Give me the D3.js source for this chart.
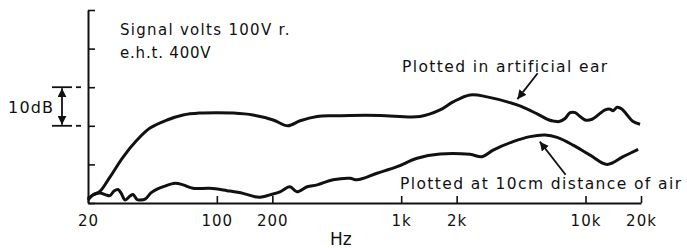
<!DOCTYPE html>
<html><head><meta charset="utf-8">
<script src="https://cdn.jsdelivr.net/npm/d3@7"></script>
<style>
html,body{margin:0;padding:0;background:#fff;}
svg text{font-family:"DejaVu Sans",sans-serif;fill:#111;}
</style></head>
<body><svg id="chart" width="687" height="248"></svg>
<script>
// ---- data ----
const xTickValues = [20, 100, 200, 1000, 2000, 10000, 20000];
const xTickLabels = ["20", "100", "200", "1k", "2k", "10k", "20k"];
const yTickValues = [0, 10, 20, 30, 40, 50];

// Plotted in artificial ear (Hz, relative dB)
const earFreq = [20, 21.3, 23.2, 26.3, 31, 36.9, 43.4, 53.7, 65.6, 81, 100, 122, 157, 202, 243, 283, 350, 427, 528, 768, 1266, 1625, 1912, 2364, 2924, 4254, 5462, 6344, 6756, 7188, 7750, 8248, 8802, 9348, 9948, 10858, 11702, 12772, 13592, 14112, 14840, 15794, 16810, 18122, 19776];
const earDb   = [0.8, 2.1, 3.0, 6.7, 11.9, 16.3, 19.4, 21.5, 22.8, 23.3, 23.4, 23.3, 22.8, 21.5, 20.0, 21.3, 22.4, 22.6, 22.7, 22.7, 22.4, 24.1, 26.2, 28.0, 27.5, 25.4, 23.1, 21.5, 21.2, 21.1, 21.9, 23.4, 23.4, 22.4, 21.5, 21.7, 22.8, 24.1, 24.3, 23.9, 24.8, 24.3, 22.8, 21.1, 20.4];

// Plotted at 10cm distance of air (Hz, relative dB)
const airFreq = [20, 21.3, 23.2, 25, 26.3, 27.7, 29.1, 30.2, 31.8, 33.8, 35.1, 36.9, 38.3, 40.8, 43.9, 47.4, 51.7, 59.3, 65.6, 74.3, 91.8, 113.6, 138.7, 161, 171.6, 194, 220, 249, 272, 309, 350, 427, 528, 576, 740, 950, 1220, 1625, 2364, 2748, 3152, 4046, 5004, 6034, 7010, 8564, 10590, 13100, 15992, 19290];
const airDb   = [1.0, 2.1, 2.6, 2.1, 1.9, 3.1, 3.5, 2.6, 0.8, 1.8, 2.2, 0.9, 0.8, 1.0, 2.6, 3.6, 4.3, 5.1, 4.7, 3.8, 3.8, 3.2, 2.5, 1.6, 1.5, 2.1, 2.9, 4.2, 2.9, 4.2, 4.7, 6.0, 6.4, 6.0, 7.7, 9.4, 11.6, 12.7, 12.6, 12.0, 13.7, 15.9, 17.2, 17.6, 17.0, 15.0, 12.4, 10.0, 12.0, 13.9];

// annotation anchors (Hz, dB)
const earArrow = {from: [5500, 33.6], to: [4270, 26.9]};
const airArrow = {from: [7800, 7.3], to: [5650, 15.9]};
const bracketDb = [20, 30];

// ---- drawing ----
const svg = d3.select("#chart");
const x = d3.scaleLog().domain([20, 20000]).range([88, 641]);
const y = d3.scaleLinear().domain([0, 50]).range([203, 10]);

svg.append("defs").append("marker")
  .attr("id", "ah").attr("viewBox", "0 0 10 10").attr("refX", 10).attr("refY", 5)
  .attr("markerWidth", 9).attr("markerHeight", 9).attr("markerUnits", "userSpaceOnUse")
  .attr("orient", "auto-start-reverse")
  .append("path").attr("d", "M0,0 L10,5 L0,10 Z").attr("fill", "#111");

const xAxis = d3.axisBottom(x).tickValues(xTickValues)
  .tickFormat((d, i) => xTickLabels[i]).tickSize(-7).tickSizeOuter(0).tickPadding(12);
const gx = svg.append("g").attr("transform", "translate(0,203)").call(xAxis);
gx.select(".domain").attr("stroke", "#111").attr("stroke-width", 2);
gx.selectAll(".tick line").attr("stroke", "#111").attr("stroke-width", 1.6);
gx.selectAll(".tick text").attr("font-size", 15).attr("letter-spacing", 1)
  .attr("font-family", "DejaVu Sans").attr("fill", "#111");

const yAxis = d3.axisLeft(y).tickValues(yTickValues).tickFormat("").tickSize(-7).tickSizeOuter(0);
const gy = svg.append("g").attr("transform", "translate(88,0)").call(yAxis);
gy.select(".domain").attr("stroke", "#111").attr("stroke-width", 2);
gy.selectAll(".tick line").attr("stroke", "#111").attr("stroke-width", 1.6);

const line = (fs, ds) => d3.line().curve(d3.curveCatmullRom.alpha(0.5))
  .x((d, i) => x(fs[i])).y((d, i) => y(ds[i]))(fs);

svg.append("path").attr("d", line(earFreq, earDb)).attr("fill", "none")
  .attr("stroke", "#111").attr("stroke-width", 3).attr("stroke-linejoin", "round");
svg.append("path").attr("d", line(airFreq, airDb)).attr("fill", "none")
  .attr("stroke", "#111").attr("stroke-width", 3).attr("stroke-linejoin", "round");

// arrows
[earArrow, airArrow].forEach(a => {
  svg.append("line")
    .attr("x1", x(a.from[0])).attr("y1", y(a.from[1]))
    .attr("x2", x(a.to[0])).attr("y2", y(a.to[1]))
    .attr("stroke", "#111").attr("stroke-width", 1.8).attr("marker-end", "url(#ah)");
});

// 10dB bracket
bracketDb.forEach(v => {
  svg.append("line").attr("x1", 52).attr("x2", 72).attr("y1", y(v)).attr("y2", y(v))
    .attr("stroke", "#111").attr("stroke-width", 1.8);
  svg.append("line").attr("x1", 76).attr("x2", 81).attr("y1", y(v)).attr("y2", y(v))
    .attr("stroke", "#111").attr("stroke-width", 1.8);
});
svg.append("line").attr("x1", 62).attr("x2", 62)
  .attr("y1", y(bracketDb[0]) - 1).attr("y2", y(bracketDb[1]) + 1)
  .attr("stroke", "#111").attr("stroke-width", 1.8)
  .attr("marker-start", "url(#ah)").attr("marker-end", "url(#ah)");
svg.append("text").attr("x", 8).attr("y", 113).attr("font-size", 16).attr("letter-spacing", 1.2).text("10dB");

// texts
svg.append("text").attr("x", 120).attr("y", 35).attr("font-size", 15).attr("letter-spacing", 1.3).text("Signal volts 100V r.");
svg.append("text").attr("x", 120).attr("y", 57.5).attr("font-size", 15).attr("letter-spacing", 0.8).text("e.h.t. 400V");
svg.append("text").attr("x", 402).attr("y", 71.5).attr("font-size", 15.5).attr("letter-spacing", 1.4).text("Plotted in artificial ear");
svg.append("text").attr("x", 400).attr("y", 189).attr("font-size", 15.5).attr("letter-spacing", 1.4).text("Plotted at 10cm distance of air");
svg.append("text").attr("x", 330).attr("y", 245).attr("font-size", 17).text("Hz");
</script></body></html>
